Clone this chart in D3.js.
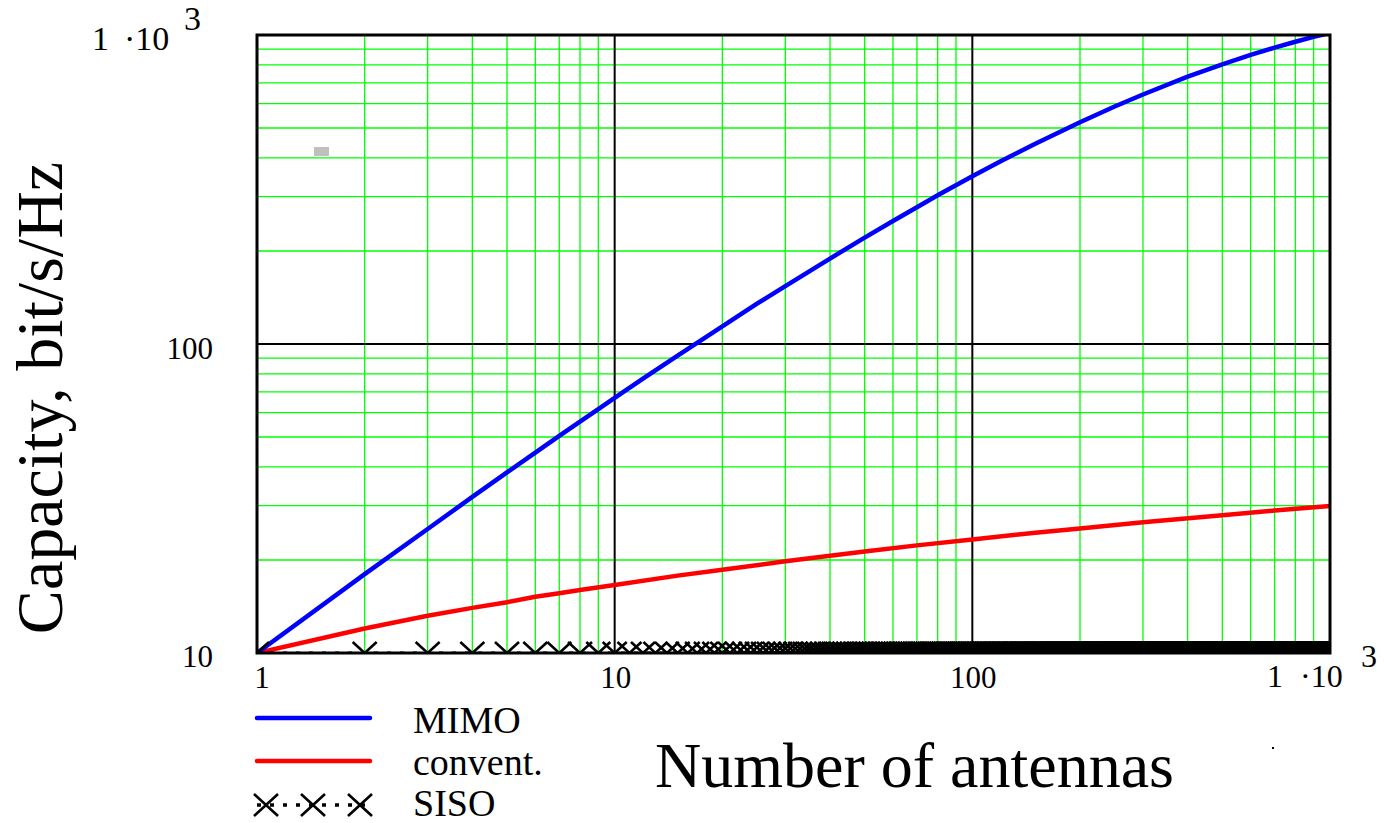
<!DOCTYPE html>
<html><head><meta charset="utf-8">
<script src="https://cdn.jsdelivr.net/npm/d3@7"></script>
<style>html,body{margin:0;padding:0;background:#fff;}svg{display:block;}text{font-family:"Liberation Serif","Times New Roman","DejaVu Serif",serif;fill:#000;}</style>
</head><body>
<svg id="c" width="1387" height="823"></svg>
<script>
// ---- data ----
const mimoN   = [1,2,3,4,5,6,7,8,9,10,12,15,20,25,30,40,50,60,70,80,100,120,150,200,250,300,400,500,600,700,800,900,1000];
const mimoC   = [10,18.0,25.2,32.0,38.4,44.5,50.4,56.1,61.6,66.9,77.2,91.7,114,135,154,189,221,250,277,303,349,390,445,522,587,642,733,804,862,910,951,986,1016];
const conventN = [1,2,3,4,5,6,7,8,10,15,20,30,50,70,100,150,200,300,500,700,1000];
const conventC = [10,12.0,13.2,14.0,14.6,15.2,15.6,16.0,16.6,17.8,18.6,19.8,21.3,22.3,23.3,24.5,25.3,26.5,27.9,28.9,29.9];
const sisoN = d3.range(1, 1001);
const sisoValue = 10;
const xTickVals = [1,10,100,1000];
const xTickLabels = ["1","10","100","1 ·10"];
const yTickVals = [10,100,1000];
const yTickLabels = ["10","100","1 ·10"];
const seriesNames = ["MIMO","convent.","SISO"];

// ---- layout ----
const svg = d3.select("#c");
const L = 257, R = 1330, T = 35, B = 653;
const x = d3.scaleLog().domain([1,1000]).range([L,R]);
const y = d3.scaleLog().domain([10,1000]).range([B,T]);

svg.append("defs").append("clipPath").attr("id","pc")
  .append("rect").attr("x",L).attr("y",T).attr("width",R-L).attr("height",B-T);

// minor grid
const xMinor = x.ticks().filter(v => ![1,10,100,1000].includes(v));
const yMinor = y.ticks().filter(v => ![10,100,1000].includes(v));
const g = svg.append("g");
g.selectAll(".vx").data(xMinor).join("line")
  .attr("x1",d=>x(d)).attr("x2",d=>x(d)).attr("y1",T).attr("y2",B)
  .attr("stroke","#00ff00").attr("stroke-width",1.3);
g.selectAll(".hy").data(yMinor).join("line")
  .attr("y1",d=>y(d)).attr("y2",d=>y(d)).attr("x1",L).attr("x2",R)
  .attr("stroke","#00ff00").attr("stroke-width",1.3);
// major grid
g.selectAll(".vmx").data([10,100]).join("line")
  .attr("x1",d=>x(d)).attr("x2",d=>x(d)).attr("y1",T).attr("y2",B)
  .attr("stroke","#000").attr("stroke-width",2);
g.selectAll(".hmy").data([100]).join("line")
  .attr("y1",d=>y(d)).attr("y2",d=>y(d)).attr("x1",L).attr("x2",R)
  .attr("stroke","#000").attr("stroke-width",2);

// curves
const plot = svg.append("g").attr("clip-path","url(#pc)");
const line = d3.line().x(d=>x(d[0])).y(d=>y(d[1]));
plot.append("path").datum(conventN.map((n,i)=>[n,conventC[i]]))
  .attr("d",line).attr("fill","none").attr("stroke","#ff0000").attr("stroke-width",4.5);
plot.append("path").datum(mimoN.map((n,i)=>[n,mimoC[i]]))
  .attr("d",line).attr("fill","none").attr("stroke","#0000ff").attr("stroke-width",4.5);
// SISO
plot.append("path").datum(sisoN.map(n=>[n,sisoValue]))
  .attr("d",line).attr("fill","none").attr("stroke","#000").attr("stroke-width",3).attr("stroke-dasharray","4,9");
const mw = 12, mh = 11;
const xMark = (cx,cy)=>`M${cx-mw},${cy-mh}L${cx+mw},${cy+mh}M${cx-mw},${cy+mh}L${cx+mw},${cy-mh}`;
plot.selectAll(".sx").data(sisoN).join("path")
  .attr("d",n=>xMark(x(n), y(sisoValue)))
  .attr("stroke","#000").attr("stroke-width",2.6).attr("fill","none");

// border
svg.append("rect").attr("x",L).attr("y",T).attr("width",R-L).attr("height",B-T)
  .attr("fill","none").attr("stroke","#000").attr("stroke-width",3);

// gray mark & dot
svg.append("rect").attr("x",314).attr("y",147).attr("width",15).attr("height",9).attr("fill","#c0c0c0");
svg.append("rect").attr("x",1272).attr("y",747).attr("width",2).attr("height",2).attr("fill","#000");

// tick labels
const fs = 31;
function sciLabel(x0, dotX, base, supBase, supX, size){
  svg.append("text").attr("x",x0).attr("y",base).attr("font-size",size).text("1");
  svg.append("text").attr("x",dotX).attr("y",base).attr("font-size",size).text("·10");
  svg.append("text").attr("x",supX).attr("y",supBase).attr("font-size",size).text("3");
}
// y ticks
yTickVals.forEach((v,i)=>{
  if (v === 1000) {
    sciLabel(92, 124, 50, 30, 184, 34);
  } else {
    svg.append("text").attr("x",213).attr("y",y(v)+(v===10?14:15)).attr("font-size",fs)
      .attr("text-anchor","end").text(yTickLabels[i]);
  }
});
// x ticks
xTickVals.forEach((v,i)=>{
  if (v === 1000) {
    sciLabel(1267, 1300, 687, 667, 1361, 32);
  } else {
    svg.append("text").attr("x",v===1?262:x(v)+1).attr("y",688).attr("font-size",fs)
      .attr("text-anchor","middle").text(xTickLabels[i]);
  }
});

// axis titles
svg.append("text").attr("x",655).attr("y",787).attr("font-size",64).text("Number of antennas");
svg.append("text").attr("transform","translate(62,398) rotate(-90)").attr("font-size",66)
  .attr("text-anchor","middle").text("Capacity, bit/s/Hz");

// legend
const lg = svg.append("g");
const ly = [718,761,805];
lg.append("line").attr("x1",257).attr("x2",370).attr("y1",ly[0]).attr("y2",ly[0])
  .attr("stroke","#0000ff").attr("stroke-width",4.5).attr("stroke-linecap","round");
lg.append("line").attr("x1",257).attr("x2",370).attr("y1",ly[1]).attr("y2",ly[1])
  .attr("stroke","#ff0000").attr("stroke-width",4.5).attr("stroke-linecap","round");
lg.append("line").attr("x1",257).attr("x2",370).attr("y1",ly[2]).attr("y2",ly[2])
  .attr("stroke","#000").attr("stroke-width",3.5).attr("stroke-dasharray","4,9");
[266,313,360].forEach(cx=>{
  lg.append("path").attr("d",xMark(cx, ly[2])).attr("stroke","#000").attr("stroke-width",2.6);
});
const lt = [733,775,816];
seriesNames.forEach((s,i)=>{
  lg.append("text").attr("x",413).attr("y",lt[i]).attr("font-size",38).text(s);
});
</script>
</body></html>
